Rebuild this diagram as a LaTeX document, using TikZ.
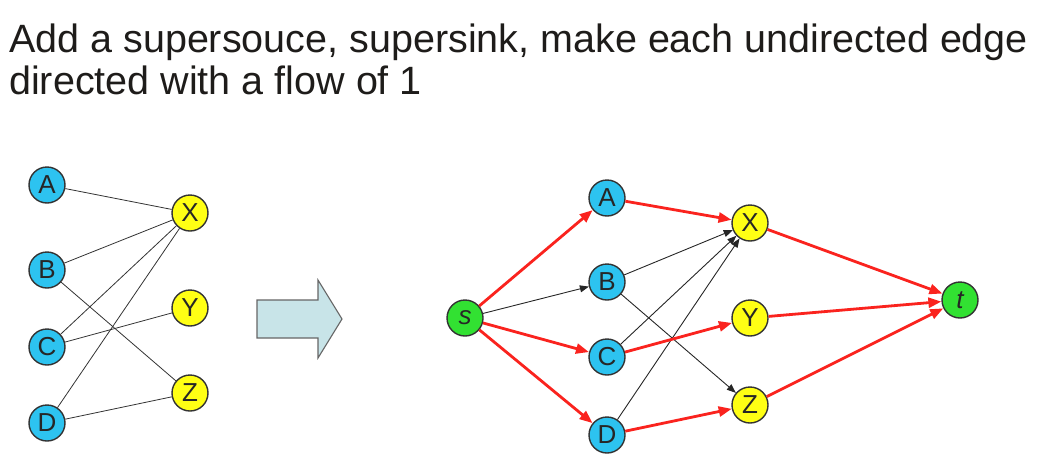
\documentclass[tikz,border=0pt]{standalone}
\usepackage{fontspec}
\setmainfont{Liberation Sans}
\usetikzlibrary{arrows.meta}
\definecolor{lcyan}{RGB}{45,195,240}
\definecolor{ryellow}{RGB}{255,255,20}
\definecolor{tgreen}{RGB}{50,225,50}
\definecolor{flowred}{RGB}{250,35,30}
\definecolor{bigarrow}{RGB}{200,228,232}
\definecolor{textdark}{RGB}{30,28,26}

\begin{document}
\begin{tikzpicture}[x=1pt,y=-1pt,
    vert/.style={circle,draw=black!80,line width=1.4pt,minimum size=36pt,inner sep=0pt,
      text=black!85,font=\fontsize{26}{26}\selectfont},
    lvert/.style={vert,fill=lcyan},
    rvert/.style={vert,fill=ryellow},
    tvert/.style={vert,fill=tgreen},
    plain/.style={black!80,line width=0.8pt},
    flow/.style={flowred,line width=2.8pt,-{Triangle[length=13pt,width=10pt]}},
    unit/.style={black!85,line width=0.9pt,-{Triangle[length=9pt,width=7pt]}}]
    \useasboundingbox (0,0) rectangle (1038,466);
    % title
    \node[anchor=base west,inner sep=0pt,text=textdark,font=\fontsize{39.5}{42}\selectfont]
      (title1) at (9,52) {Add a supersouce, supersink, make each undirected edge};
    \node[anchor=base west,inner sep=0pt,text=textdark,font=\fontsize{39.5}{42}\selectfont]
      (title2) at (9,94) {directed with a flow of 1};
    % bipartite graph
    \node[lvert] (A) at (47,185) {A};
    \node[lvert] (B) at (47,270) {B};
    \node[lvert] (C) at (47,347) {C};
    \node[lvert] (D) at (47,423) {D};
    \node[rvert] (X) at (190,213) {X};
    \node[rvert] (Y) at (190,308) {Y};
    \node[rvert] (Z) at (190,393) {Z};
    \foreach \u/\v in {A/X,B/X,B/Z,C/X,C/Y,D/X,D/Z}
    \draw[plain] (\u) -- (\v);
    % big arrow
    \draw[fill=bigarrow,draw=black!60,line width=1.1pt]
      (257,300) -- (318,300) -- (318,280) -- (342,319) -- (318,358) -- (318,338) -- (257,338) -- cycle;
    % flow network
    \node[tvert] (s) at (465,318) {\itshape s};
    \node[lvert] (A2) at (607,198) {A};
    \node[lvert] (B2) at (607,282) {B};
    \node[lvert] (C2) at (607,357) {C};
    \node[lvert] (D2) at (607,435) {D};
    \node[rvert] (X2) at (750,223) {X};
    \node[rvert] (Y2) at (750,318) {Y};
    \node[rvert] (Z2) at (750,405) {Z};
    \node[tvert] (t) at (960,300) {\itshape t};
    \foreach \u/\v in {s/B2,B2/X2,B2/Z2,C2/X2,D2/X2}
    \draw[unit] (\u) -- (\v);
    \foreach \u/\v in {s/A2,s/C2,s/D2,A2/X2,C2/Y2,D2/Z2,X2/t,Y2/t,Z2/t}
    \draw[flow] (\u) -- (\v);
\end{tikzpicture}
\end{document}
